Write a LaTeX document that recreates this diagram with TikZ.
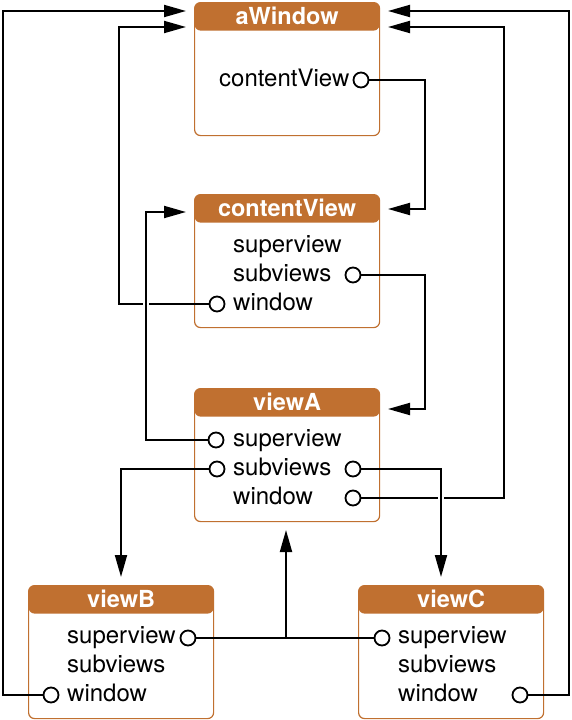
\documentclass[tikz,border=0pt]{standalone}
\usepackage{fontspec}
\setmainfont{TeX Gyre Heros}
\usepackage{tikz}
\usetikzlibrary{arrows.meta}
\definecolor{viewbrown}{RGB}{192,112,48}

\begin{document}
\begin{tikzpicture}[x=1pt, y=-1pt,
    objbox/.style={draw=viewbrown, line width=1.2pt, rounded corners=6pt, fill=white,
        minimum width=185pt, minimum height=133pt, inner sep=0pt, anchor=north west,
        path picture={\fill[viewbrown] (path picture bounding box.north west)
            rectangle ([yshift=-28pt]path picture bounding box.north east);}},
    headtext/.style={text=white, font=\fontsize{23.5}{27}\selectfont\bfseries, inner sep=0pt, anchor=base},
    field/.style={font=\fontsize{24}{28}\selectfont, inner sep=0pt, anchor=base west},
    pin/.style={circle, draw=black, fill=white, line width=1.8pt, minimum size=15pt, inner sep=0pt},
    link/.style={line width=2pt, -{Triangle[length=22pt,width=12pt]}},
    plainlink/.style={line width=2pt},
    halo/.style={white, line width=6pt, shorten <=14pt, shorten >=14pt}]
    \useasboundingbox (0,0) rectangle (572,720);

    % Objects
    \node[objbox] (aw) at (194,2) {};
    \node[objbox] (cv) at (194,194) {};
    \node[objbox] (va) at (194,388) {};
    \node[objbox] (vb) at (28,585) {};
    \node[objbox] (vc) at (358,585) {};

    % Headers
    \node[headtext] (aw-t) at ([yshift=-22pt]aw.north) {aWindow};
    \node[headtext] (cv-t) at ([yshift=-22pt]cv.north) {contentView};
    \node[headtext] (va-t) at ([yshift=-22pt]va.north) {viewA};
    \node[headtext] (vb-t) at ([yshift=-22pt]vb.north) {viewB};
    \node[headtext] (vc-t) at ([yshift=-22pt]vc.north) {viewC};

    % Fields (baselines)
    \node[field] (aw-cv) at (219,86) {contentView};
    \node[field] (cv-sup) at (233,252) {superview};
    \node[field] (cv-sub) at (233,281) {subviews};
    \node[field] (cv-win) at (233,310) {window};
    \node[field] (va-sup) at (233,446) {superview};
    \node[field] (va-sub) at (233,475) {subviews};
    \node[field] (va-win) at (233,504) {window};
    \node[field] (vb-sup) at (67,643) {superview};
    \node[field] (vb-sub) at (67,672) {subviews};
    \node[field] (vb-win) at (67,701) {window};
    \node[field] (vc-sup) at (398,643) {superview};
    \node[field] (vc-sub) at (398,672) {subviews};
    \node[field] (vc-win) at (398,701) {window};

    % Outlets
    \node[pin] (aw-cv-o) at (361,80) {};
    \node[pin] (cv-sub-o) at (353,275) {};
    \node[pin] (cv-win-o) at (217,304) {};
    \node[pin] (va-sup-o) at (216,440) {};
    \node[pin] (va-subl-o) at (217,469) {};
    \node[pin] (va-subr-o) at (353,469) {};
    \node[pin] (va-win-o) at (353,498) {};
    \node[pin] (vb-sup-o) at (188,638) {};
    \node[pin] (vb-win-o) at (51,695) {};
    \node[pin] (vc-sup-o) at (382,638) {};
    \node[pin] (vc-win-o) at (520,695) {};

    % Arrow ends and bends
    \coordinate (aw-l1) at (186,11);
    \coordinate (aw-l2) at (186,27);
    \coordinate (aw-r1) at (388,11);
    \coordinate (aw-r2) at (388,27);
    \coordinate (cv-l) at (186,212);
    \coordinate (cv-r) at (388,209);
    \coordinate (va-r) at (388,409);
    \coordinate (va-b) at (286,530);
    \coordinate (vb-in) at (121,577);
    \coordinate (vc-in) at (441,577);
    \coordinate (k-aw) at (425,80);
    \coordinate (k-cvw) at (119,304);
    \coordinate (k-cvs) at (425,275);
    \coordinate (k-sup) at (146,440);
    \coordinate (k-vaw) at (503.5,498);
    \coordinate (k-mid) at (286,638);
    \coordinate (k-vbw) at (3,695);
    \coordinate (k-vcw) at (569,695);

    % Links
    \draw[link] (aw-cv-o) -- (k-aw) |- (cv-r);
    \draw[link] (cv-win-o) -- (k-cvw) |- (aw-l2);
    \draw[link] (cv-sub-o) -- (k-cvs) |- (va-r);
    \draw[halo] (k-sup) -- (k-sup |- cv-l);
    \draw[link] (va-sup-o) -- (k-sup) |- (cv-l);
    \draw[link] (va-subl-o) -| (vb-in);
    \draw[link] (va-win-o) -- (k-vaw) |- (aw-r2);
    \draw[halo] (vc-in |- va-subr-o) -- (vc-in);
    \draw[link] (va-subr-o) -| (vc-in);
    \draw[plainlink] (vb-sup-o) -- (vc-sup-o);
    \draw[link] (k-mid) -- (va-b);
    \draw[link] (vb-win-o) -- (k-vbw) |- (aw-l1);
    \draw[link] (vc-win-o) -- (k-vcw) |- (aw-r1);
\end{tikzpicture}
\end{document}
